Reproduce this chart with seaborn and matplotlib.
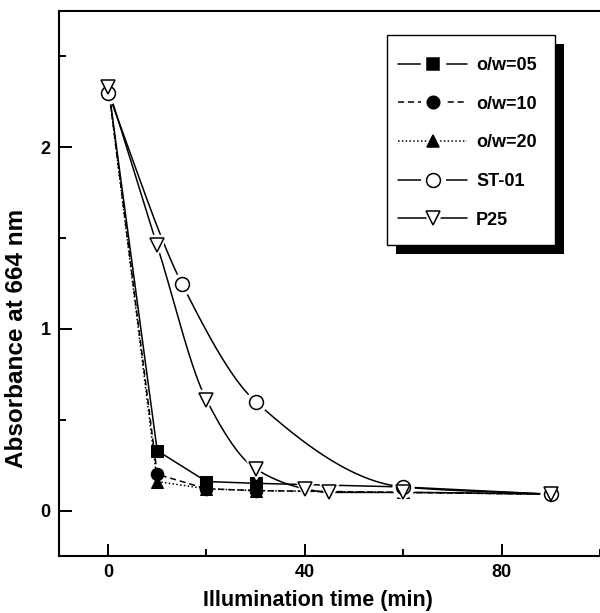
import matplotlib
matplotlib.use("Agg")
import matplotlib.pyplot as plt
import numpy as np
import seaborn as sns
from matplotlib.lines import Line2D
from matplotlib.patches import Rectangle
from matplotlib.ticker import MultipleLocator

# data
time_ow = [0, 10, 20, 30, 60, 90]
ow05 = [2.35, 0.33, 0.16, 0.15, 0.13, 0.09]
ow10 = [2.35, 0.20, 0.12, 0.11, 0.10, 0.09]
ow20 = [2.35, 0.16, 0.12, 0.11, 0.10, 0.09]

time_st01 = [0, 15, 30, 60, 90]
st01 = [2.30, 1.25, 0.60, 0.13, 0.09]

time_p25 = [0, 10, 20, 30, 40, 45, 60, 90]
p25 = [2.33, 1.46, 0.61, 0.23, 0.12, 0.10, 0.10, 0.09]

labels = ["o/w=05", "o/w=10", "o/w=20", "ST-01", "P25"]


def smooth(x, y, n=300):
    # monotone cubic (pchip) through the measured points
    x = np.asarray(x, float)
    y = np.asarray(y, float)
    h = np.diff(x)
    d = np.diff(y) / h
    m = np.zeros_like(y)
    for k in range(1, len(x) - 1):
        if d[k - 1] * d[k] > 0:
            w1 = 2 * h[k] + h[k - 1]
            w2 = h[k] + 2 * h[k - 1]
            m[k] = (w1 + w2) / (w1 / d[k - 1] + w2 / d[k])
    m[0] = d[0]
    m[-1] = d[-1]
    xs = np.linspace(x[0], x[-1], n)
    i = np.clip(np.searchsorted(x, xs) - 1, 0, len(x) - 2)
    t = (xs - x[i]) / h[i]
    ys = ((2 * t**3 - 3 * t**2 + 1) * y[i] + (t**3 - 2 * t**2 + t) * h[i] * m[i]
          + (-2 * t**3 + 3 * t**2) * y[i + 1] + (t**3 - t**2) * h[i] * m[i + 1])
    return xs, ys


sns.set_style("ticks")
plt.rcParams["font.family"] = ["Liberation Sans", "DejaVu Sans"]
plt.rcParams["font.weight"] = "bold"
plt.rcParams["text.color"] = "black"
plt.rcParams["axes.labelcolor"] = "black"

fig = plt.figure(figsize=(6, 6.13), dpi=100)
ax = fig.add_axes([0.098, 0.093, 0.902, 0.889])

dash = (0, (4, 2.5))
dot = (0, (1, 1.5))

# o/w series: straight segments, filled markers
sns.lineplot(x=time_ow, y=ow05, ax=ax, color="black", lw=1.1, linestyle="-",
             marker="s", markersize=9, markeredgecolor="black", zorder=4)
sns.lineplot(x=time_ow, y=ow10, ax=ax, color="black", lw=1.1, linestyle=dash,
             marker="o", markersize=9, markeredgecolor="black", zorder=4)
sns.lineplot(x=time_ow, y=ow20, ax=ax, color="black", lw=1.1, linestyle=dot,
             marker="^", markersize=9, markeredgecolor="black", zorder=4)

# commercial samples: smooth curves, open markers with a white gap
for tx, vals, mk in [(time_st01, st01, "o"), (time_p25, p25, "v")]:
    xs, ys = smooth(tx, vals)
    sns.lineplot(x=xs, y=ys, ax=ax, color="black", lw=1.1, sort=False, estimator=None, zorder=3)
    ax.plot(tx, vals, linestyle="none", marker=mk, markersize=15, markerfacecolor="white",
            markeredgecolor="white", zorder=5)
    ax.plot(tx, vals, linestyle="none", marker=mk, markersize=10, markerfacecolor="white",
            markeredgecolor="black", markeredgewidth=1.1, zorder=6)

ax.set_xlim(-10, 100)
ax.set_ylim(-0.25, 2.75)
ax.xaxis.set_major_locator(MultipleLocator(40))
ax.xaxis.set_minor_locator(MultipleLocator(20))
ax.yaxis.set_major_locator(MultipleLocator(1))
ax.yaxis.set_minor_locator(MultipleLocator(0.5))
ax.tick_params(which="major", direction="in", length=9, width=1.4, labelsize=13, pad=6,
               color="black", labelcolor="black")
ax.tick_params(which="minor", direction="in", length=5, width=1.4, color="black")
for lab in ax.get_xticklabels() + ax.get_yticklabels():
    lab.set_fontweight("bold")
for s in ["left", "bottom", "top"]:
    ax.spines[s].set_linewidth(1.5)
    ax.spines[s].set_color("black")
ax.spines["right"].set_visible(False)

ax.set_xlabel("Illumination time (min)", fontsize=15.5, fontweight="bold")
ax.set_ylabel("Absorbance at 664 nm", fontsize=17.5, fontweight="bold")
ax.xaxis.set_label_coords(0.479, -0.062)
ax.yaxis.set_label_coords(-0.056, 0.40)

styles = [("-", "s", "black"), (dash, "o", "black"), (dot, "^", "black"),
          ("-", "o", "white"), ("-", "v", "white")]
handles = []
for ls, mk, fc in styles:
    gap = Line2D([], [], color="black", lw=1.1, linestyle=ls, marker=mk, markersize=17,
                 markerfacecolor="white", markeredgecolor="white")
    mark = Line2D([], [], linestyle="none", marker=mk, markersize=9 if fc == "black" else 10,
                  markerfacecolor=fc, markeredgecolor="black", markeredgewidth=1.1)
    handles.append((gap, mark))

# legend content only; the boxed frame and its shadow are drawn below
leg = ax.legend(handles, labels, loc="upper left", bbox_to_anchor=(0.6268, 0.9156),
                borderaxespad=0, frameon=False, numpoints=1,
                handlelength=3.82, handletextpad=0.5, labelspacing=1.2, borderpad=0,
                prop={"weight": "bold", "size": 13})
leg.set_zorder(10)

fig.canvas.draw()
bb = leg.get_window_extent(fig.canvas.get_renderer())
x0, x1 = bb.x0 - 11, bb.x1 + 18
y0, y1 = bb.y0 - 16, bb.y1 + 22
inv = ax.transAxes.inverted()
(ax0, ay0), (ax1, ay1) = inv.transform([(x0, y0), (x1, y1)])
dx = 9 / ax.bbox.width
dy = 9 / ax.bbox.height
ax.add_patch(Rectangle((ax0 + dx, ay0 - dy), ax1 - ax0, ay1 - ay0, transform=ax.transAxes,
                       facecolor="black", edgecolor="none", zorder=8, clip_on=False))
ax.add_patch(Rectangle((ax0, ay0), ax1 - ax0, ay1 - ay0, transform=ax.transAxes,
                       facecolor="white", edgecolor="black", linewidth=1.0, zorder=9,
                       clip_on=False))

plt.savefig("out.png", dpi=100)
